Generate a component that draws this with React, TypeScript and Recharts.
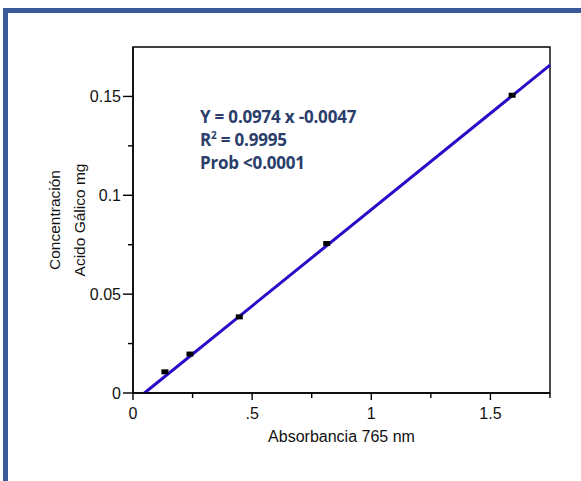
import React from "react";
import {
  ScatterChart,
  Scatter,
  XAxis,
  YAxis,
  ReferenceLine,
  ReferenceArea,
} from "recharts";

// absorbance readings vs gallic acid concentration (mg)
const absorbance = [0.134, 0.239, 0.446, 0.813, 1.591];
const concentration = [0.0107, 0.0197, 0.0385, 0.0756, 0.1506];

const xTicks = [0, 0.25, 0.5, 0.75, 1, 1.25, 1.5, 1.75];
const xLabels: Record<string, string> = { "0": "0", "0.5": ".5", "1": "1", "1.5": "1.5" };
const yTicks = [0, 0.025, 0.05, 0.075, 0.1, 0.125, 0.15];
const yLabels: Record<string, string> = { "0": "0", "0.05": "0.05", "0.1": "0.1", "0.15": "0.15" };

// fitted line ends
const fitStart = { x: 0.048, y: 0 };
const fitEnd = { x: 1.75, y: 0.1658 };

const fitLines = ["Y = 0.0974 x -0.0047", "R2 = 0.9995", "Prob <0.0001"];

const points = absorbance.map((x, i) => ({ x, y: concentration[i] }));

const AXIS_FONT = "'Liberation Sans', Arial, sans-serif";
const LINE_COLOR = "#2c0bc8";
const TEXT_COLOR = "#2b3e6b";

const XTick = (props: any) => {
  const { x, y, payload } = props;
  const label = xLabels[String(payload.value)];
  const len = label ? 7 : 5;
  return (
    <g>
      <line x1={x} x2={x} y1={y - 8} y2={y - 8 + len} stroke="#000" strokeWidth={1.4} />
      {label && (
        <text x={x} y={y + 18} textAnchor="middle" fontSize={16} fontFamily={AXIS_FONT} fill="#111">
          {label}
        </text>
      )}
    </g>
  );
};

const YTick = (props: any) => {
  const { x, y, payload } = props;
  const label = yLabels[String(payload.value)];
  const len = label ? 10 : 5;
  return (
    <g>
      <line x1={x + 8} x2={x + 8 - len} y1={y} y2={y} stroke="#000" strokeWidth={1.4} />
      {label && (
        <text x={x - 4} y={y + 6} textAnchor="end" fontSize={16} fontFamily={AXIS_FONT} fill="#111">
          {label}
        </text>
      )}
    </g>
  );
};

const YTitle = (props: any) => {
  const { viewBox } = props;
  const cy = viewBox.y + viewBox.height / 2;
  return (
    <g fontSize={15.5} fontFamily={AXIS_FONT} fill="#111" textAnchor="middle">
      <text x={60} y={cy} transform={`rotate(-90 60 ${cy})`}>Concentración</text>
      <text x={85} y={cy} transform={`rotate(-90 85 ${cy})`}>Acido Gálico mg</text>
    </g>
  );
};

const Marker = (props: any) => {
  const { cx, cy } = props;
  return <rect x={cx - 3.5} y={cy - 2.5} width={7} height={5} fill="#000" />;
};

export default function App() {
  return (
    <div style={{ position: "absolute", left: 0, top: 0, width: 581, height: 481, overflow: "hidden", background: "#fff" }}>
      <div
        style={{
          position: "absolute",
          left: 3,
          top: 8,
          width: 700,
          height: 600,
          border: "5px solid #3a5a9c",
          boxSizing: "border-box",
        }}
      />
      <div style={{ position: "absolute", left: 0, top: 0 }}>
        <ScatterChart width={581} height={481} margin={{ top: 47, right: 31, bottom: 0, left: 0 }}>
          <XAxis
            type="number"
            dataKey="x"
            domain={[0, 1.75]}
            ticks={xTicks}
            interval={0}
            height={88}
            tick={<XTick />}
            tickLine={false}
            axisLine={{ stroke: "#000", strokeWidth: 1.4 }}
            label={{ value: "Absorbancia 765 nm", position: "insideTop", offset: 38, fontSize: 16, fontFamily: AXIS_FONT, fill: "#111" }}
          />
          <YAxis
            type="number"
            dataKey="y"
            domain={[0, 0.175]}
            ticks={yTicks}
            interval={0}
            width={133}
            tick={<YTick />}
            tickLine={false}
            axisLine={{ stroke: "#000", strokeWidth: 1.4 }}
            label={<YTitle />}
          />
          <ReferenceArea x1={0} x2={1.75} y1={0} y2={0.175} fill="none" stroke="#000" strokeWidth={1.4} ifOverflow="visible" />
          <Scatter data={points} shape={<Marker />} isAnimationActive={false} />
          <ReferenceLine
            segment={[fitStart, fitEnd]}
            stroke={LINE_COLOR}
            strokeWidth={3}
            ifOverflow="visible"
          />
        </ScatterChart>
      </div>
      <div
        style={{
          position: "absolute",
          left: 200,
          top: 105,
          fontFamily: "'Open Sans', sans-serif",
          fontWeight: 700,
          fontSize: 17,
          lineHeight: "23px",
          color: TEXT_COLOR,
          whiteSpace: "nowrap",
          letterSpacing: -0.2,
        }}
      >
        <div>{fitLines[0]}</div>
        <div>
          R<sup style={{ fontSize: 10, verticalAlign: "top", lineHeight: "14px" }}>2</sup>
          {fitLines[1].slice(2)}
        </div>
        <div>{fitLines[2]}</div>
      </div>
    </div>
  );
}
